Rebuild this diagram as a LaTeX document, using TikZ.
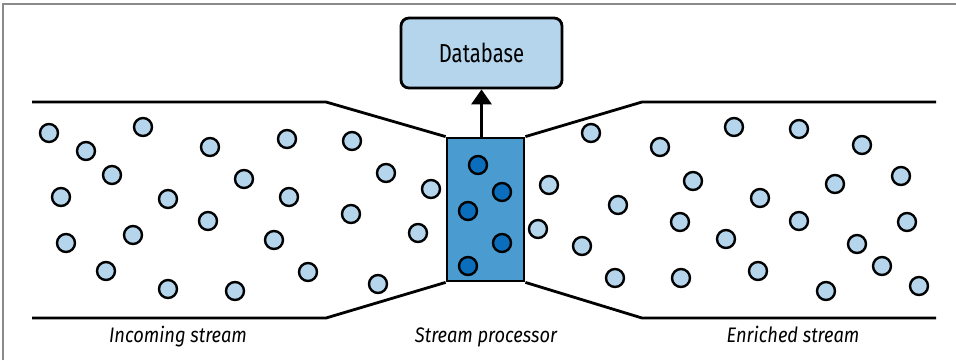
\documentclass[tikz,border=0pt]{standalone}
\usepackage{fontspec}
\newfontfamily\dbfont[FakeStretch=0.78]{Fira Sans}
\newfontfamily\capfont[FakeStretch=0.87]{Fira Sans}
\usetikzlibrary{arrows.meta}

\begin{document}
\begin{tikzpicture}[x=0.5pt, y=-0.5pt,
		streamline/.style={line width=1.4pt, line join=miter},
		lightdot/.style={draw=black, line width=1.2pt, fill=dotlight},
		darkdot/.style={draw=black, line width=1.2pt, fill=dotdark},
		caption/.style={font=\capfont\itshape\fontsize{10.5}{12}\selectfont,
			inner sep=0pt, anchor=base}]
		
		% Color definitions
		\definecolor{dotlight}{HTML}{B4D5EC}
		\definecolor{dotdark}{HTML}{0A6EBD}
		\definecolor{procblue}{HTML}{4A9BD0}
		\definecolor{framegray}{HTML}{8A8A8A}
		
		\useasboundingbox (0,0) rectangle (956,360);
		
		% Frame
		\draw[framegray, line width=0.75pt] (3,360) -- (3,4) -- (956,4);
		
		% --- Nodes ---
		% Stream processor
		\node[draw=black, fill=procblue, line width=1.4pt,
		minimum width=38.5pt, minimum height=71.5pt, inner sep=0pt]
		(proc) at (485.5,209.5) {};
		
		% Database
		\node[draw=black, fill=dotlight, line width=1.4pt, rounded corners=4pt,
		minimum width=80.5pt, minimum height=35pt, inner sep=0pt,
		font=\dbfont\fontsize{13}{15}\selectfont]
		(db) at (481.5,53) {Database};
		
		% Stream outline
		\draw[streamline] (32,102) -- (326,102) -- (proc.north west);
		\draw[streamline] (32,318) -- (326,318) -- (proc.south west);
		\draw[streamline] (proc.north east) -- (642,102) -- (936,102);
		\draw[streamline] (proc.south east) -- (642,318) -- (936,318);
		\node[draw=black, line width=1.4pt, minimum width=38.5pt,
		minimum height=71.5pt, inner sep=0pt] at (proc) {};
		
		% Arrow to database
		\draw[line width=1.6pt, -{Triangle[width=10pt, length=7.5pt]}]
		(db.south |- proc.north) -- (db.south);
		
		% Incoming events
		\foreach \x/\y in {49/133, 86/151, 143/127, 210/147, 287/139, 352/141,
			112/175, 244/179, 386/173, 61/197, 168/199, 289/197, 208/221,
			351/214, 431/189, 66/243, 133/235, 274/240, 418/233, 106/271,
			308/272, 168/289, 235/291, 378/284}
		\draw[lightdot] (\x,\y) circle[radius=4.5pt];
		
		% Events in the processor
		\foreach \x/\y in {478/165, 502/192, 468/211, 502/243, 468/266}
		\draw[darkdot] (\x,\y) circle[radius=4.5pt];
		
		% Enriched events
		\foreach \x/\y in {591/133, 660/147, 734/127, 799/129, 862/145,
			549/185, 693/181, 835/184, 901/176, 618/205, 760/198, 680/222,
			799/221, 907/222, 538/229, 582/246, 726/239, 857/244, 882/266,
			615/278, 681/278, 758/271, 826/291, 919/286}
		\draw[lightdot] (\x,\y) circle[radius=4.5pt];
		
		% Labels
		\node[caption] (inlabel) at (178,342) {Incoming stream};
		\node[caption] (proclabel) at (486,342) {Stream processor};
		\node[caption] (outlabel) at (793,342) {Enriched stream};
		
	\end{tikzpicture}
\end{document}
